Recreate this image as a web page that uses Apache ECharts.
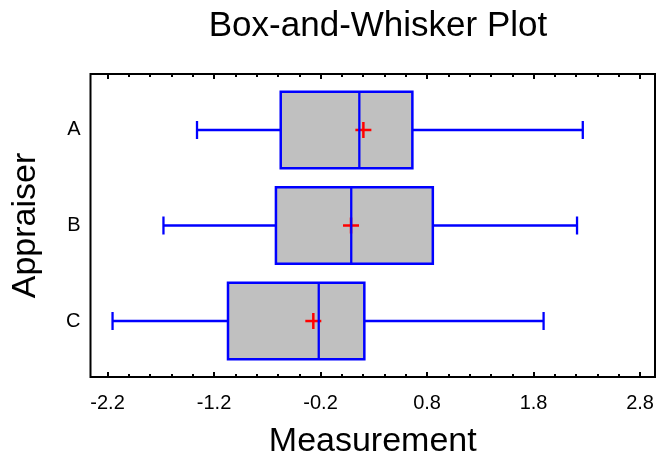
<!DOCTYPE html>
<html><head><meta charset="utf-8">
<script src="https://cdn.jsdelivr.net/npm/echarts@6/dist/echarts.min.js"></script>
<style>html,body{margin:0;padding:0;background:#fff}#c{width:657px;height:464px}</style>
</head><body><div id="c"></div>
<script>
// ---- data ----
const appraisers  = ['A', 'B', 'C'];
const whiskerLow  = [-1.36, -1.675, -2.153];
const q1          = [-0.574, -0.619, -1.069];
const median      = [0.164, 0.088, -0.217];
const q3          = [0.662, 0.854, 0.211];
const whiskerHigh = [2.262, 2.208, 1.894];
const means       = [0.202, 0.086, -0.268];
const majorTicks  = [-2.2, -1.2, -0.2, 0.8, 1.8, 2.8];
const minorTicks  = [-2.0, -1.8, -1.6, -1.4, -1.0, -0.8, -0.6, -0.4, 0.0, 0.2, 0.4, 0.6,
                     1.0, 1.2, 1.4, 1.6, 2.0, 2.2, 2.4, 2.6];
const yPositions  = [3, 2, 1];

const FONT = '"Liberation Sans", Arial, sans-serif';
const chart = echarts.init(document.getElementById('c'), null, {renderer: 'canvas'});

const data = appraisers.map((a, i) => [yPositions[i], whiskerLow[i], q1[i], median[i], q3[i], whiskerHigh[i], means[i]]);

function xAxisDef(pos, ticks, len, isMain) {
  return {
    type: 'value', position: pos, min: -2.36, max: 2.94,
    axisLine: {show: false}, splitLine: {show: false},
    axisTick: {show: true, inside: true, length: len, customValues: ticks, lineStyle: {color: '#000', width: 2}},
    axisLabel: isMain ? {show: true, customValues: majorTicks, formatter: v => Number(v).toFixed(1),
      fontSize: 20, fontFamily: FONT, color: '#000', margin: 16} : {show: false},
    name: isMain ? 'Measurement' : '', nameLocation: 'middle', nameGap: 48,
    nameTextStyle: {fontSize: 34, fontFamily: FONT, color: '#000'}
  };
}

const option = {
  backgroundColor: '#fff',
  animation: false,
  title: {
    text: 'Box-and-Whisker Plot', left: 373, top: 4, textAlign: 'center',
    textStyle: {fontSize: 35, fontWeight: 'normal', fontFamily: FONT, color: '#000'}
  },
  grid: {left: 90.5, right: 2, top: 74, bottom: 81.5, show: true, borderColor: '#000', borderWidth: 2, containLabel: false},
  xAxis: [
    xAxisDef('bottom', majorTicks, 5, true),
    xAxisDef('bottom', minorTicks, 3, false),
    xAxisDef('top', majorTicks, 5, false),
    xAxisDef('top', minorTicks, 3, false)
  ],
  yAxis: {
    type: 'value', min: 0.414, max: 3.586,
    axisLine: {show: false}, axisTick: {show: false}, splitLine: {show: false},
    axisLabel: {customValues: yPositions, formatter: v => appraisers[yPositions.indexOf(Number(v))],
      fontSize: 20, fontFamily: FONT, color: '#000', margin: 10},
    name: 'Appraiser', nameLocation: 'middle', nameGap: 48, nameRotate: 90,
    nameTextStyle: {fontSize: 34, fontFamily: FONT, color: '#000'}
  },
  series: [{
    type: 'custom',
    xAxisIndex: 0, yAxisIndex: 0,
    encode: {x: [1, 2, 3, 4, 5, 6], y: 0},
    data: data,
    renderItem: function (params, api) {
      const y = api.value(0);
      const p = v => api.coord([api.value(v), y]);
      const lo = p(1), a = p(2), m = p(3), b = p(4), hi = p(5), mn = p(6);
      const cy = lo[1];
      const hb = 38.2, hc = 9, hm = 8;
      const blue = {stroke: '#0000FF', lineWidth: 2.3, fill: null};
      const red = {stroke: '#FF0000', lineWidth: 2.5, fill: null};
      return {
        type: 'group',
        children: [
          {type: 'line', shape: {x1: lo[0], y1: cy, x2: a[0], y2: cy}, style: blue},
          {type: 'line', shape: {x1: b[0], y1: cy, x2: hi[0], y2: cy}, style: blue},
          {type: 'line', shape: {x1: lo[0], y1: cy - hc, x2: lo[0], y2: cy + hc}, style: blue},
          {type: 'line', shape: {x1: hi[0], y1: cy - hc, x2: hi[0], y2: cy + hc}, style: blue},
          {type: 'rect', shape: {x: a[0], y: cy - hb, width: b[0] - a[0], height: 2 * hb},
            style: {fill: '#C0C0C0', stroke: '#0000FF', lineWidth: 2.5}},
          {type: 'line', shape: {x1: mn[0] - hm, y1: cy, x2: mn[0] + hm, y2: cy}, style: red},
          {type: 'line', shape: {x1: mn[0], y1: cy - hm, x2: mn[0], y2: cy + hm}, style: red},
          {type: 'line', shape: {x1: m[0], y1: cy - hb, x2: m[0], y2: cy + hb}, style: blue}
        ]
      };
    }
  }]
};
chart.setOption(option);
</script>
</body></html>
